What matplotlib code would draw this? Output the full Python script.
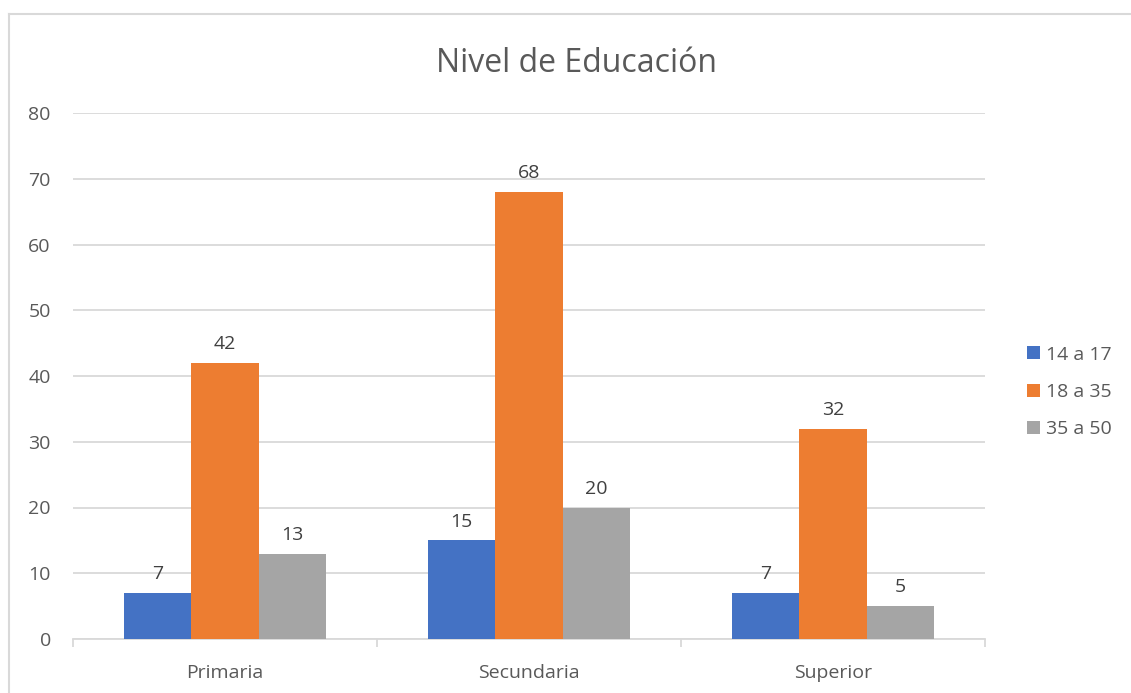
import matplotlib
matplotlib.use("Agg")
import matplotlib.pyplot as plt
import numpy as np
from matplotlib.lines import Line2D

categories = ["Primaria", "Secundaria", "Superior"]
series_names = ["14 a 17", "18 a 35", "35 a 50"]
s_14_17 = [7, 15, 7]
s_18_35 = [42, 68, 32]
s_35_50 = [13, 20, 5]
colors = ["#4472C4", "#ED7D31", "#A5A5A5"]
yticks = [0, 10, 20, 30, 40, 50, 60, 70, 80]

plt.rcParams['font.family'] = ['Open Sans', 'DejaVu Sans']
text_color = "#595959"
grid_color = "#D9D9D9"
fs = 14

W, H = 1131, 693
fig = plt.figure(figsize=(W / 100, H / 100), dpi=100)
fig.patch.set_facecolor("white")

# outer chart border (top and left visible)
fig.add_artist(Line2D([9 / W, 9 / W], [0, 1 - 14 / H], transform=fig.transFigure, color=grid_color, lw=1.5))
fig.add_artist(Line2D([9 / W, 1], [1 - 14 / H, 1 - 14 / H], transform=fig.transFigure, color=grid_color, lw=1.5))

ax = fig.add_axes([73 / W, 1 - 639 / H, (985 - 73) / W, (639 - 113) / H])
x = np.arange(len(categories))
bw = 0.222
all_series = [s_14_17, s_18_35, s_35_50]
for i, (vals, name, c) in enumerate(zip(all_series, series_names, colors)):
    pos = x + (i - 1) * bw
    ax.bar(pos, vals, width=bw, color=c, label=name, zorder=3)
    for xb, v in zip(pos, vals):
        ax.annotate(str(v), (xb, v), xytext=(0, 7), textcoords="offset points",
                    ha="center", va="bottom", fontsize=fs, color="#404040")

ax.set_xlim(-0.5, len(categories) - 0.5)
ax.set_ylim(0, 80)
ax.set_yticks(yticks)
ax.set_yticklabels([str(t) for t in yticks])
ax.yaxis.grid(True, color=grid_color, lw=1.3, zorder=0)
ax.set_axisbelow(True)
for s in ["top", "right", "left"]:
    ax.spines[s].set_visible(False)
ax.spines["bottom"].set_color(grid_color)
ax.spines["bottom"].set_linewidth(1.3)
ax.tick_params(axis="y", length=0, pad=16, labelsize=fs, labelcolor=text_color)
ax.set_xticks(x)
ax.set_xticklabels(categories)
ax.tick_params(axis="x", which="major", length=0, pad=18, labelsize=fs, labelcolor=text_color)
ax.set_xticks(np.arange(-0.5, len(categories), 1.0), minor=True)
ax.tick_params(axis="x", which="minor", length=6, width=1.3, color=grid_color)

fig.text(576 / W, 1 - 63 / H, "Nivel de Educación", ha="center", va="center",
         fontsize=23, color=text_color)

handles, labels = ax.get_legend_handles_labels()
leg = fig.legend(handles, labels, loc="center left", bbox_to_anchor=(1027 / W, 1 - 392 / H),
                 frameon=False, fontsize=fs, labelcolor=text_color, handlelength=0.65,
                 handleheight=0.65, handletextpad=0.35, labelspacing=1.0,
                 borderpad=0, borderaxespad=0)

fig.savefig("out.png", dpi=100)
